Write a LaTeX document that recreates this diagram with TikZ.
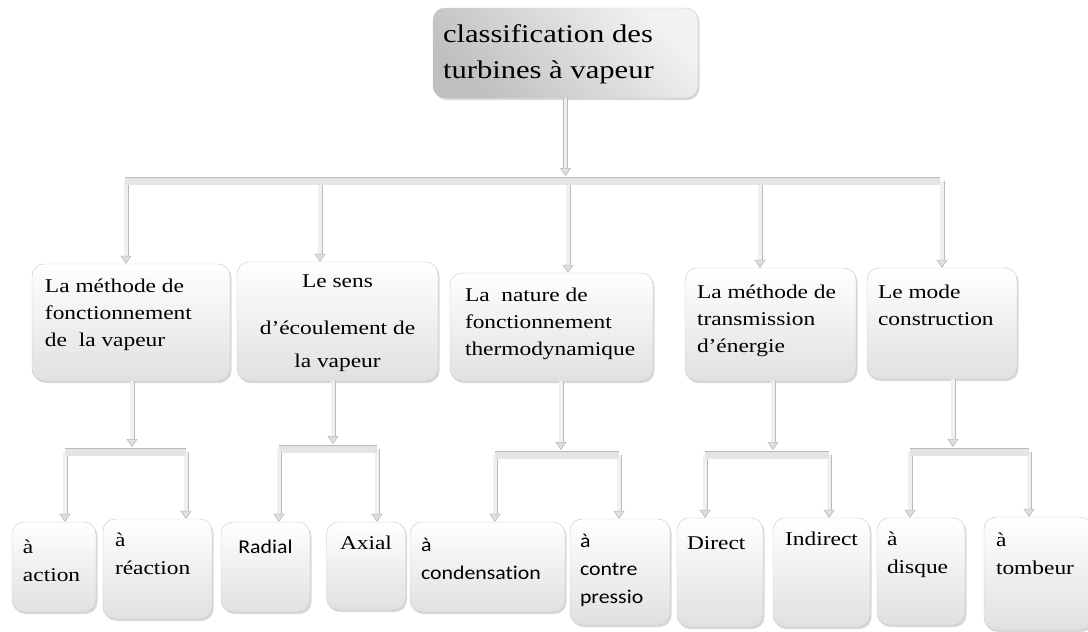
\documentclass[tikz,border=0pt]{standalone}
\usepackage{fontspec}
\setmainfont[FakeStretch=1.2]{Liberation Serif}
\newfontfamily\sansfam[FakeStretch=1.12, Ligatures=NoCommon]{Carlito}
\usepackage{tikz}
\usetikzlibrary{arrows.meta,shadows,positioning}

\newcommand{\lvtop}{\fontsize{25.5}{36}\selectfont}
\newcommand{\lvone}{\fontsize{19.5}{27}\selectfont}
\newcommand{\lvtwo}{\fontsize{19.5}{28}\selectfont}

\tikzset{
  boite/.style={draw=gray!45, rounded corners=12pt, top color=white, bottom color=gray!24,
    drop shadow={shadow xshift=1.5pt, shadow yshift=-2pt, opacity=.3}, inner sep=0pt},
  racine/.style={top color=gray!10, bottom color=gray!50, shading angle=-45},
  texte/.style={anchor=north west, inner sep=0pt, align=left},
  fleche/.style={draw=gray!55, double=gray!12, double distance=3.4pt, line width=.8pt,
    -{Triangle[width=11pt,length=8pt,fill=gray!25,color=gray!55,line width=.6pt]}},
  barre/.style={draw=gray!55, double=gray!20, double distance=7pt, line width=.8pt}
}

\begin{document}
\begin{tikzpicture}[x=1pt, y=-1pt]
\useasboundingbox (0,0) rectangle (1088,632);

% racine
\node[boite, racine, minimum width=265pt, minimum height=90pt] (top) at (565.5,53) {};
\node[texte, font=\lvtop] (top-t) at ([xshift=10pt,yshift=-17pt]top.north west) {classification des\\turbines à vapeur};

% premier niveau
\node[boite, minimum width=198pt, minimum height=117pt] (meth) at (131,322.5) {};
\node[texte, font=\lvone] (meth-t) at ([xshift=13pt,yshift=-15pt]meth.north west) {La méthode de\\fonctionnement\\de~ la vapeur};
\node[boite, minimum width=201pt, minimum height=119pt] (sens) at (337.5,321.5) {};
\node[texte, anchor=north, align=center, font=\lvone] (sens-t) at ([yshift=-13pt]sens.north) {Le sens\\[20pt]d’écoulement de\\[6pt]la vapeur};
\node[boite, minimum width=203pt, minimum height=108pt] (nat) at (551.5,327) {};
\node[texte, font=\lvone] (nat-t) at ([xshift=15pt,yshift=-15pt]nat.north west) {La~ nature de\\fonctionnement\\thermodynamique};
\node[boite, minimum width=171pt, minimum height=113pt] (trans) at (770.5,324.5) {};
\node[texte, font=\lvone] (trans-t) at ([xshift=12pt,yshift=-17pt]trans.north west) {La méthode de\\transmission\\d’énergie};
\node[boite, minimum width=150pt, minimum height=111pt] (mode) at (942,323.5) {};
\node[texte, font=\lvone] (mode-t) at ([xshift=11pt,yshift=-17pt]mode.north west) {Le mode\\construction};

% second niveau
\node[boite, minimum width=84pt, minimum height=90pt] (act) at (54,567) {};
\node[texte, font=\lvtwo] (act-t) at ([xshift=11pt,yshift=-18pt]act.north west) {à\\action};
\node[boite, minimum width=109pt, minimum height=100pt] (react) at (157.5,569) {};
\node[texte, font=\lvtwo] (react-t) at ([xshift=12pt,yshift=-14pt]react.north west) {à\\réaction};
\node[boite, minimum width=89pt, minimum height=90pt] (rad) at (265.5,567) {};
\node[texte, anchor=north, font=\lvtwo\sansfam] (rad-t) at ([yshift=-18pt]rad.north) {Radial};
\node[boite, minimum width=79pt, minimum height=88pt] (ax) at (366,566) {};
\node[texte, anchor=north, font=\lvtwo] (ax-t) at ([yshift=-14pt]ax.north) {Axial};
\node[boite, minimum width=155pt, minimum height=90pt] (cond) at (487.5,567) {};
\node[texte, font=\lvtwo\sansfam] (cond-t) at ([xshift=11pt,yshift=-16pt]cond.north west) {à\\condensation};
\node[boite, minimum width=100pt, minimum height=106pt] (contre) at (620,572) {};
\node[texte, font=\lvtwo\sansfam] (contre-t) at ([xshift=10pt,yshift=-15pt]contre.north west) {à\\contre\\pressio};
\node[boite, minimum width=86pt, minimum height=109pt] (dir) at (720,572.5) {};
\node[texte, font=\lvtwo] (dir-t) at ([xshift=10pt,yshift=-19pt]dir.north west) {Direct};
\node[boite, minimum width=97pt, minimum height=109pt] (ind) at (821.5,572.5) {};
\node[texte, anchor=north, font=\lvtwo] (ind-t) at ([yshift=-14pt]ind.north) {Indirect};
\node[boite, minimum width=88pt, minimum height=107pt] (disq) at (921,571.5) {};
\node[texte, font=\lvtwo] (disq-t) at ([xshift=10pt,yshift=-14pt]disq.north west) {à\\disque};
\node[boite, minimum width=108pt, minimum height=113pt] (tomb) at (1038,573.5) {};
\node[texte, font=\lvtwo] (tomb-t) at ([xshift=12pt,yshift=-16pt]tomb.north west) {à\\tombeur};

% barre principale
\coordinate (busG) at (125,181);
\coordinate (busD) at (940,181);
\coordinate (a1) at (126,181);
\coordinate (a2) at (320,181);
\coordinate (a3) at (568,181);
\coordinate (a4) at (760,181);
\coordinate (a5) at (942,181);
\draw[fleche, shorten >=5pt] (top.south) -- (top.south |- busG);
\foreach \p/\b in {a1/meth, a2/sens, a3/nat, a4/trans, a5/mode}
  \draw[fleche] (\p) -- (\p |- \b.north);
\draw[barre] (busG) -- (busD);

% barres secondaires
\coordinate (g1) at (132,452);  \coordinate (g1G) at (65,452);  \coordinate (g1D) at (186,452);
\coordinate (g2) at (333,449);  \coordinate (g2G) at (279,449); \coordinate (g2D) at (377,449);
\coordinate (g3) at (561,455);  \coordinate (g3G) at (495,455); \coordinate (g3D) at (619,455);
\coordinate (g4) at (773,455);  \coordinate (g4G) at (705,455); \coordinate (g4D) at (829,455);
\coordinate (g5) at (953,452);  \coordinate (g5G) at (910,452); \coordinate (g5D) at (1029,452);
\foreach \g/\b/\l/\r in {g1/meth/act/react, g2/sens/rad/ax, g3/nat/cond/contre, g4/trans/dir/ind, g5/mode/disq/tomb}{
  \draw[fleche, shorten >=5pt] (\b.south -| \g) -- (\g);
  \draw[fleche] (\g G) -- (\g G |- \l.north);
  \draw[fleche] (\g D) -- (\g D |- \r.north);
  \draw[barre] (\g G) -- (\g D);
}
\end{tikzpicture}
\end{document}
